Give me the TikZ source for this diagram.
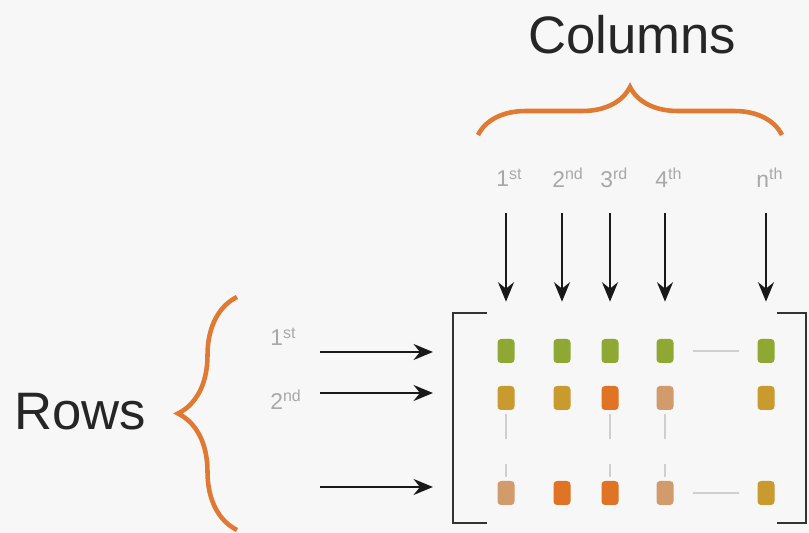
\documentclass[tikz,border=0pt]{standalone}
\usepackage{fontspec}
\setmainfont{Liberation Sans}
\usepackage{xcolor}
\usetikzlibrary{arrows.meta,decorations.pathreplacing,calc}

\definecolor{bgcol}{HTML}{F7F7F7}
\definecolor{bracecol}{HTML}{E07A32}
\definecolor{labelgray}{HTML}{A8A8A8}
\definecolor{entrygreen}{HTML}{8FA833}
\definecolor{entrygold}{HTML}{C99A2E}
\definecolor{entryorange}{HTML}{E07424}
\definecolor{entrytan}{HTML}{D29B6C}
\definecolor{dotgray}{HTML}{CFCFCF}

\tikzset{
  bigtext/.style={font=\fontsize{30}{36}\selectfont, text=black!85},
  ordinal/.style={font=\fontsize{13}{15}\selectfont, text=labelgray, inner sep=0pt, anchor=west},
  pointer/.style={line width=1.7pt, black!90, -{Stealth[length=11pt,width=9pt]}},
  entry/.style={rectangle, rounded corners=2pt, minimum width=0.34cm, minimum height=0.48cm, inner sep=0pt},
  bracket/.style={line width=1.6pt, black!80},
  curly/.style={decorate, decoration={brace, amplitude=#1}, line width=2.6pt, bracecol},
  dots/.style={line width=1.6pt, dotgray}
}

\begin{document}
\begin{tikzpicture}[x=0.02cm, y=-0.02cm]
        % background and frame
        \fill[bgcol] (0,0) rectangle (809,533);
        \useasboundingbox (0,0) rectangle (809,533);

        % titles
        \node[bigtext] (coltitle) at (632,35) {Columns};
        \node[bigtext] (rowtitle) at (80,412) {Rows};

        % braces
        \draw[curly=0.96cm] (478,135) -- (782,135);
        \draw[curly=1.18cm] (237,530) -- (237,297);

        % matrix brackets
        \draw[bracket] (487,313) -- (453,313) -- (453,523) -- (487,523);
        \draw[bracket] (777,313) -- (806,313) -- (806,523) -- (777,523);

        % matrix entries
        \foreach \c/\x/\cola/\colb/\colc in {1/506/entrygreen/entrygold/entrytan,
                                             2/562/entrygreen/entrygold/entryorange,
                                             3/610/entrygreen/entryorange/entryorange,
                                             4/665/entrygreen/entrytan/entrytan,
                                             5/766/entrygreen/entrygold/entrygold} {
            \node[entry, fill=\cola] (e1\c) at (\x,351) {};
            \node[entry, fill=\colb] (e2\c) at (\x,398) {};
            \node[entry, fill=\colc] (e3\c) at (\x,493) {};
        }

        % dots between entries
        \draw[dots] (e14.east) ++(19,0) coordinate (h1a) -- ++(46,0) coordinate (h1b);
        \draw[dots] (e34.east) ++(19,0) coordinate (h3a) -- ++(46,0) coordinate (h3b);
        \foreach \c in {1,3,4} {
            \draw[dots, dash pattern=on 14pt off 14pt] (e2\c.south) ++(0,4) -- ($(e3\c.north)+(0,-4)$);
        }

        % column labels and arrows
        \foreach \c/\txt in {1/1\textsuperscript{st}, 2/2\textsuperscript{nd}, 3/3\textsuperscript{rd},
                             4/4\textsuperscript{th}, 5/n\textsuperscript{th}} {
            \node[ordinal] (cl\c) at ($(e1\c)+(-10,-173)$) {\txt};
            \coordinate (cs\c) at ($(e1\c)+(0,-138)$);
            \draw[pointer, shorten >=0.74cm] (cs\c) -- (e1\c.north);
        }

        % row labels and arrows
        \node[ordinal] (rl1) at (270,337) {1\textsuperscript{st}};
        \node[ordinal] (rl2) at (270,400) {2\textsuperscript{nd}};
        \foreach \r/\y in {1/352, 2/393, 3/487} {
            \coordinate (rs\r) at (320,\y);
            \coordinate (re\r) at (433,\y);
            \draw[pointer] (rs\r) -- (re\r);
        }
\end{tikzpicture}
\end{document}
